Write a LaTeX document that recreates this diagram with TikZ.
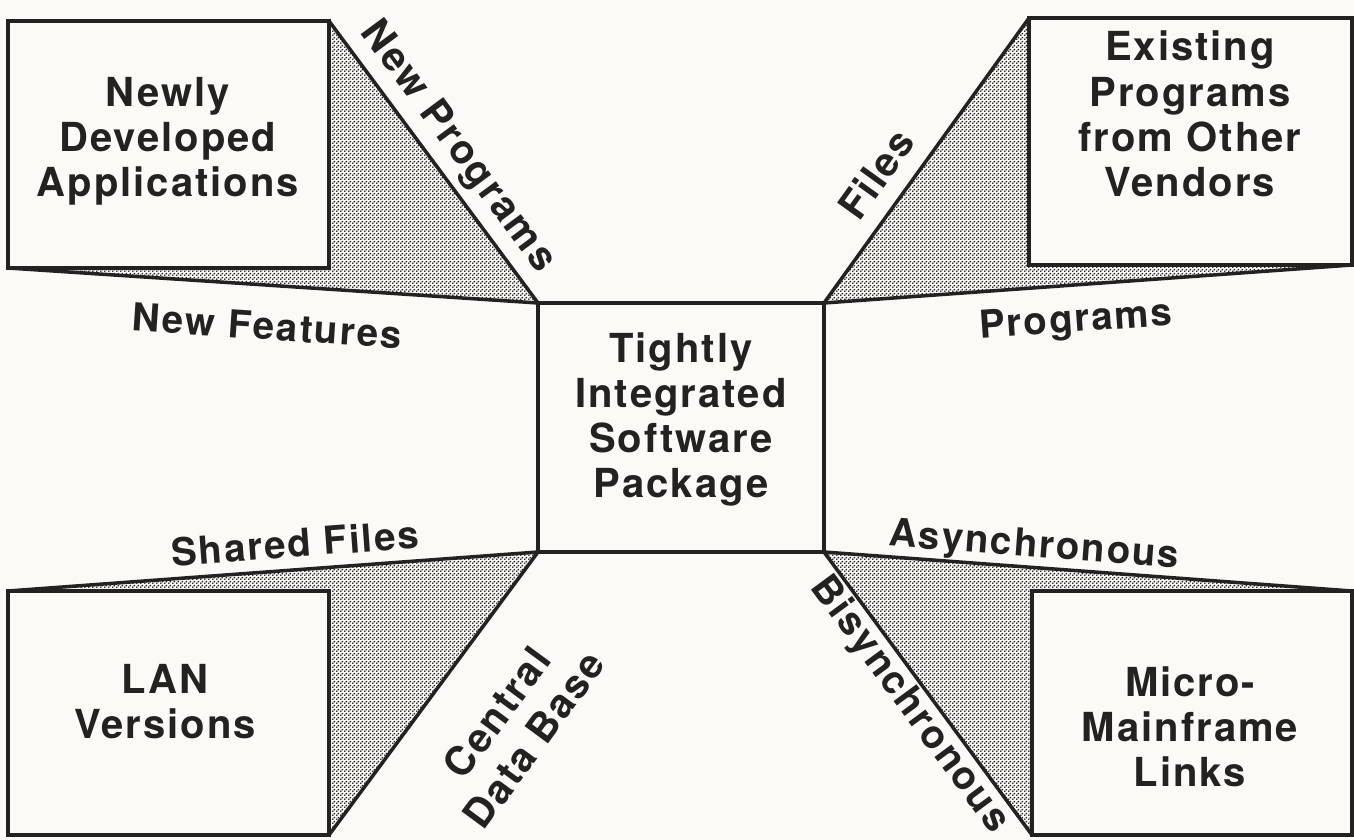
\documentclass[tikz,border=0pt]{standalone}
\usepackage{fontspec}
\setmainfont{TeX Gyre Heros}[LetterSpace=5]
\usetikzlibrary{backgrounds,patterns.meta}
\definecolor{paper}{RGB}{251,250,246}
\definecolor{ink}{RGB}{38,33,33}
\pgfdeclarepattern{
  name=halftone, type=uncolored,
  bottom left={\pgfpoint{0pt}{0pt}}, top right={\pgfpoint{4pt}{4pt}},
  tile size={\pgfpoint{4pt}{4pt}},
  code={
    \pgfpathcircle{\pgfpoint{1pt}{1pt}}{1.15pt}
    \pgfpathcircle{\pgfpoint{3pt}{3pt}}{1.15pt}
    \pgfusepath{fill}
  }}
\begin{document}
\begin{tikzpicture}[x=1pt,y=-1pt,
  boxframe/.style={draw=ink, line width=3.5pt, fill=paper, outer sep=0pt,
    inner sep=0pt, rectangle},
  boxtext/.style={font=\bfseries\fontsize{40}{45}\selectfont, align=center,
    text=ink, inner sep=0pt, anchor=north},
  edgetext/.style={font=\bfseries\fontsize{38.5}{42}\selectfont, align=center,
    text=ink, inner sep=0pt},
  slanttext/.style={edgetext, font=\bfseries\fontsize{40}{46}\selectfont},
  wedge/.style={pattern=halftone, pattern color=ink},
  rim/.style={draw=ink, line width=3.5pt, line join=round}]
\useasboundingbox (0,0) rectangle (1354,840);

% the five boxes
\node[boxframe, minimum width=286pt, minimum height=249pt] (core) at (681,427.5) {};
\node[boxframe, minimum width=321pt, minimum height=247pt] (nda)  at (168.5,144.5) {};
\node[boxframe, minimum width=323pt, minimum height=247pt] (ext)  at (1190.5,141.5) {};
\node[boxframe, minimum width=321pt, minimum height=244pt] (lan)  at (168.5,713) {};
\node[boxframe, minimum width=320pt, minimum height=244pt] (mml)  at (1192,713) {};

% box texts
\node[boxtext] (coret) at (681,332) {Tightly\\Integrated\\Software\\Package};
\node[boxtext] (ndat)  at (168,77)  {Newly\\Developed\\Applications};
\node[boxtext] (extt)  at (1190,31) {Existing\\Programs\\from Other\\Vendors};
\node[boxtext] (lant)  at (165,664) {LAN\\Versions};
\node[boxtext] (mmlt)  at (1190,666) {Micro-\\Mainframe\\Links};

% shaded perspective faces behind the boxes
\begin{scope}[on background layer]
  \fill[paper] (0,0) rectangle (1354,840);
  \fill[wedge] (nda.north east) -- (core.north west) -- (nda.south west)
               -- (nda.south east) -- cycle;
  \fill[wedge] (ext.north west) -- (core.north east) -- (ext.south east)
               -- (ext.south west) -- cycle;
  \fill[wedge] (lan.south east) -- (core.south west) -- (lan.north west)
               -- (lan.north east) -- cycle;
  \fill[wedge] (mml.south west) -- (core.south east) -- (mml.north east)
               -- (mml.north west) -- cycle;
\end{scope}

% outer edges of the faces
\draw[rim] (nda.north east) -- (core.north west) -- (nda.south west);
\draw[rim] (ext.north west) -- (core.north east) -- (ext.south east);
\draw[rim] (lan.south east) -- (core.south west) -- (lan.north west);
\draw[rim] (mml.south west) -- (core.south east) -- (mml.north east);

% labels along the edges
\node[slanttext, rotate=-53.5] (lnp) at (457,147) {New Programs};
\node[edgetext, rotate=-3.8]  (lnf) at (267,326) {New Features};
\node[slanttext, rotate=54.3]  (lfi) at (876,174) {Files};
\node[edgetext, rotate=4.1]   (lpr) at (1076,322) {Programs};
\node[edgetext, rotate=4.2]   (lsf) at (295,543) {Shared Files};
\node[slanttext, rotate=53.6]  (lcd) at (515,726) {Central\\Data Base};
\node[edgetext, rotate=-4.3]  (las) at (1034,547) {Asynchronous};
\node[slanttext, font=\bfseries\fontsize{39}{44}\selectfont,
      rotate=-53.6] (lbs) at (909,705) {Bisynchronous};
\end{tikzpicture}
\end{document}
